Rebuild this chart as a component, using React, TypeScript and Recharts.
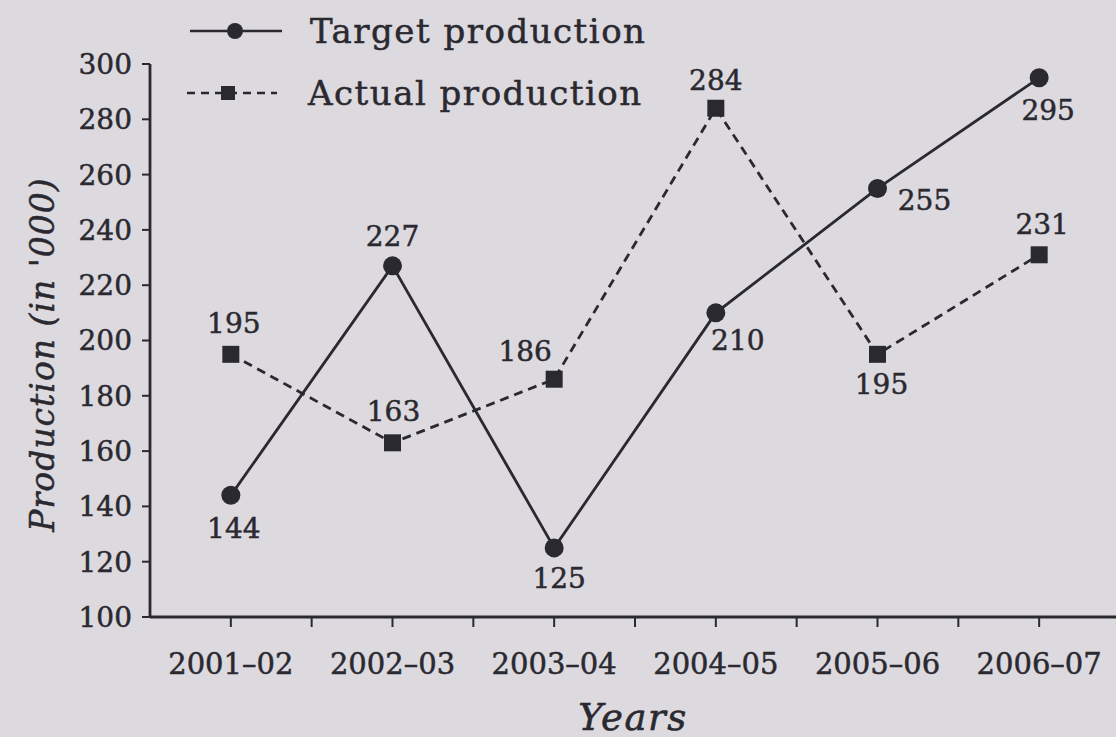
import React from "react";
import { LineChart, Line, XAxis, YAxis } from "recharts";

const years = ["2001–02", "2002–03", "2003–04", "2004–05", "2005–06", "2006–07"];
const target = [144, 227, 125, 210, 255, 295];
const actual = [195, 163, 186, 284, 195, 231];
const yTicks = [100, 120, 140, 160, 180, 200, 220, 240, 260, 280, 300];
const xTicks = [0, 0.5, 1, 1.5, 2, 2.5, 3, 3.5, 4, 4.5, 5, 5.5];

// label offsets (dx, dy) relative to each point
const targetLabelPos = [[3, 33], [0, -29], [5, 31], [22, 28], [47, 12], [9, 33]];
const actualLabelPos = [[3, -31], [1, -31], [-29, -28], [0, -28], [4, 30], [3, -30]];

const data = years.map((y, i) => ({ x: i, year: y, target: target[i], actual: actual[i] }));

const INK = "#2b2930";
const BG = "#dcdadf";
const SERIF = "'DejaVu Serif', 'Liberation Serif', serif";

const makeLabel = (pos: number[][]) => (props: any) => {
  const { x, y, value, index } = props;
  const [dx, dy] = pos[index] || [0, -20];
  return (
    <text
      key={`lbl-${index}`}
      x={x + dx}
      y={y + dy}
      textAnchor="middle"
      dominantBaseline="central"
      fill={INK}
      stroke={INK}
      strokeWidth={0.5}
      fontSize={28}
      fontFamily={SERIF}
    >
      {value}
    </text>
  );
};

const CircleDot = (props: any) => {
  const { cx, cy, index } = props;
  return <circle key={`c-${index}`} cx={cx} cy={cy} r={9.5} fill={INK} />;
};

const SquareDot = (props: any) => {
  const { cx, cy, index } = props;
  return <rect key={`s-${index}`} x={cx - 8.5} y={cy - 8.5} width={17} height={17} fill={INK} />;
};

const textFx = { WebkitTextStroke: `0.5px ${INK}` } as React.CSSProperties;

const LegendBox = () => (
  <div style={{ fontFamily: SERIF, color: INK, fontSize: 34, letterSpacing: 1.5, ...textFx }}>
    <div style={{ display: "flex", alignItems: "center", height: 50 }}>
      <svg width={110} height={20}>
        <line x1={5} y1={10} x2={97} y2={10} stroke={INK} strokeWidth={2.5} />
        <circle cx={50} cy={10} r={8} fill={INK} />
      </svg>
      <span style={{ marginLeft: 15 }}>Target production</span>
    </div>
    <div style={{ display: "flex", alignItems: "center", height: 50, marginTop: 12 }}>
      <svg width={110} height={20}>
        <line x1={2} y1={10} x2={92} y2={10} stroke={INK} strokeWidth={2.5} strokeDasharray="8 6" />
        <rect x={36} y={3} width={14} height={14} fill={INK} />
      </svg>
      <span style={{ marginLeft: 13 }}>Actual production</span>
    </div>
  </div>
);

export default function App() {
  return (
    <div
      style={{
        position: "absolute",
        left: 0,
        top: 0,
        width: 1116,
        height: 737,
        overflow: "hidden",
        background: BG,
      }}
    >
      <div style={{ position: "absolute", left: 185, top: 6 }}>
        <LegendBox />
      </div>
      <LineChart width={1125} height={737} data={data} margin={{ top: 64, right: 5, bottom: 0, left: 0 }}>
        <XAxis
          dataKey="x"
          type="number"
          domain={[-0.5, 5.5]}
          ticks={xTicks}
          tickFormatter={(v: number) => (Number.isInteger(v) ? years[v] : "")}
          height={120}
          tickSize={10}
          tickMargin={26}
          axisLine={{ stroke: INK, strokeWidth: 2.8 }}
          tickLine={{ stroke: INK, strokeWidth: 2 }}
          tick={{ fill: INK, stroke: INK, strokeWidth: 0.5, fontSize: 29, fontFamily: SERIF }}
          allowDataOverflow
          label={(p: any) => {
            const vb = p.viewBox;
            return (
              <text
                x={vb.x + vb.width / 2 - 2}
                y={vb.y + 100}
                textAnchor="middle"
                dominantBaseline="central"
                fill={INK}
                stroke={INK}
                strokeWidth={0.6}
                fontSize={37}
                letterSpacing={1.5}
                fontStyle="italic"
                fontFamily={SERIF}
              >
                Years
              </text>
            );
          }}
        />
        <YAxis
          type="number"
          domain={[100, 300]}
          ticks={yTicks}
          width={150}
          tickSize={8}
          tickMargin={10}
          interval={0}
          axisLine={{ stroke: INK, strokeWidth: 2.8 }}
          tickLine={{ stroke: INK, strokeWidth: 2 }}
          tick={{ fill: INK, stroke: INK, strokeWidth: 0.5, fontSize: 28, fontFamily: SERIF }}
          label={(p: any) => {
            const vb = p.viewBox;
            const cy = vb.y + vb.height / 2 + 14;
            return (
              <text
                x={42}
                y={cy}
                transform={`rotate(-90, 42, ${cy})`}
                textAnchor="middle"
                dominantBaseline="central"
                fill={INK}
                stroke={INK}
                strokeWidth={0.5}
                fontSize={33}
                letterSpacing={1}
                fontStyle="italic"
                fontFamily={SERIF}
              >
                Production (in '000)
              </text>
            );
          }}
        />
        <Line
          dataKey="target"
          stroke={INK}
          strokeWidth={2.8}
          dot={CircleDot}
          activeDot={false}
          isAnimationActive={false}
          label={makeLabel(targetLabelPos)}
        />
        <Line
          dataKey="actual"
          stroke={INK}
          strokeWidth={2.8}
          strokeDasharray="9 6"
          dot={SquareDot}
          activeDot={false}
          isAnimationActive={false}
          label={makeLabel(actualLabelPos)}
        />
      </LineChart>
    </div>
  );
}
